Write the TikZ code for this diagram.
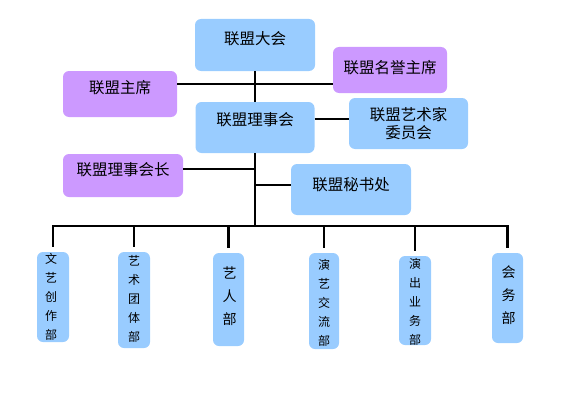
\documentclass[tikz,border=0pt]{standalone}
\usepackage{fontspec}
\newfontfamily\cjk{Noto Sans CJK SC}
\definecolor{boxblue}{RGB}{153,204,255}
\definecolor{boxpurple}{RGB}{204,153,255}
\begin{document}
\begin{tikzpicture}[x=1pt,y=-1pt,
  box/.style={rounded corners=6pt, inner sep=0pt, draw=none},
  bbox/.style={box, fill=boxblue},
  pbox/.style={box, fill=boxpurple},
  txt/.style={font=\cjk\fontsize{15.5}{18}\selectfont, inner sep=0pt, align=center},
  vtxt/.style={font=\cjk\fontsize{12}{19}\selectfont, inner sep=0pt, align=center},
  vbig/.style={font=\cjk\fontsize{14}{23}\selectfont, inner sep=0pt, align=center},
  thk/.style={line width=2.4pt},
  thn/.style={line width=1.1pt},
]
\useasboundingbox (0,0) rectangle (569,396);
% top level boxes
\node[bbox, minimum width=120pt, minimum height=52pt,
  label={[txt,yshift=6.7pt]center:联盟大会}] (dh) at (255,45) {};
\node[pbox, minimum width=114pt, minimum height=46pt,
  label={[txt,yshift=2pt]center:联盟名誉主席}] (mz) at (390,70) {};
\node[pbox, minimum width=114pt, minimum height=46pt,
  label={[txt,yshift=6pt]center:联盟主席}] (zx) at (120,94) {};
\node[bbox, minimum width=119pt, minimum height=51pt,
  label={[txt,yshift=7.5pt]center:联盟理事会}] (lsh) at (255,127.5) {};
\node[bbox, minimum width=119pt, minimum height=51pt,
  label={[txt,yshift=-0.5pt]center:联盟艺术家\\委员会}] (ysj) at (408.5,123.5) {};
\node[pbox, minimum width=120pt, minimum height=43pt,
  label={[txt,yshift=5.5pt]center:联盟理事会长}] (hz) at (123,175.5) {};
\node[bbox, minimum width=120pt, minimum height=51pt,
  label={[txt,yshift=4.5pt]center:联盟秘书处}] (ms) at (351,189.5) {};
% departments
\node[bbox, minimum width=32pt, minimum height=90pt,
  label={[vtxt,xshift=-2pt]center:文\\艺\\创\\作\\部}] (b1) at (53,297) {};
\node[bbox, minimum width=32pt, minimum height=96pt,
  label={[vtxt,yshift=1.5pt]center:艺\\术\\团\\体\\部}] (b2) at (134,300) {};
\node[bbox, minimum width=31pt, minimum height=93pt,
  label={[vbig,yshift=3.5pt,xshift=1pt]center:艺\\人\\部}] (b3) at (228.5,299.5) {};
\node[bbox, minimum width=30pt, minimum height=96pt,
  label={[vtxt,yshift=-1.5pt]center:演\\艺\\交\\流\\部}] (b4) at (324,301) {};
\node[bbox, minimum width=32pt, minimum height=89pt,
  label={[vtxt,yshift=-1pt]center:演\\出\\业\\务\\部}] (b5) at (415,300.5) {};
\node[bbox, minimum width=31pt, minimum height=90pt,
  label={[vbig,yshift=2.5pt,xshift=1pt]center:会\\务\\部}] (b6) at (507.5,298) {};
% junction coordinates
\coordinate (j1) at (255,84);
\coordinate (j2) at (255,119);
\coordinate (j3) at (255,169);
\coordinate (j4) at (255,185);
\coordinate (bus) at (255,226);
% connectors
\draw[thk] (dh.south) -- (lsh.north);
\draw[thn] (zx.east |- j1) -- (mz.west |- j1);
\draw[thk] (lsh.east |- j2) -- (ysj.west |- j2);
\draw[thk] (lsh.south) -- (bus);
\draw[thn] (hz.east |- j3) -- (j3);
\draw[thk] (j4) -- (ms.west |- j4);
\draw[thk] ([yshift=5pt]b1.north) |- (bus) -| ([yshift=5pt]b6.north);
\draw[thk] (b2.north |- bus) -- ([yshift=5pt]b2.north);
\draw[thk] (b3.north |- bus) -- ([yshift=5pt]b3.north);
\draw[thk] (b4.north |- bus) -- ([yshift=5pt]b4.north);
\draw[thk] (b5.north |- bus) -- ([yshift=5pt]b5.north);
\end{tikzpicture}
\end{document}
